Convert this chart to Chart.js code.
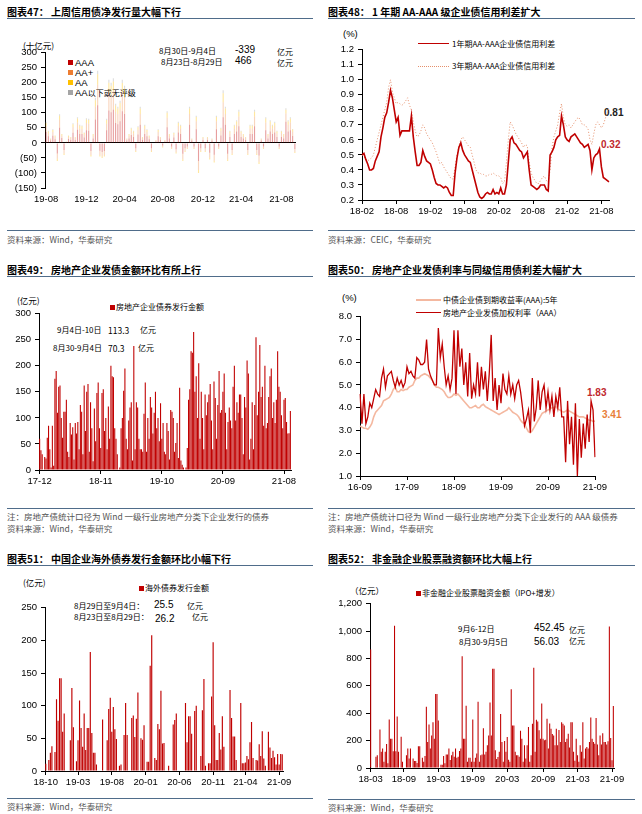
<!DOCTYPE html>
<html>
<head>
<meta charset="utf-8">
<script src="https://cdn.jsdelivr.net/npm/chart.js@4.4.0/dist/chart.umd.min.js"></script>
<style>
body{margin:0;width:642px;height:814px;background:#fff;position:relative;overflow:hidden;font-family:"Noto Sans CJK SC",sans-serif;}
.t{position:absolute;white-space:nowrap;line-height:12px;height:12px;font-size:8.5px;color:#000;}
.h{position:absolute;white-space:nowrap;line-height:14px;font-size:10px;font-weight:bold;color:#000;}
.r{position:absolute;height:0;border-top:1.5px solid #4f6c8a;}
.r2{position:absolute;height:0;border-top:1px solid #4f6c8a;}
.s{color:#555;}
.n{font-family:"Liberation Sans",Arial,sans-serif;font-size:10px;}
.sq{position:absolute;width:5px;height:5px;}
.ln{position:absolute;height:0;}
canvas{position:absolute;}
</style>
</head>
<body>
<!-- 图表47 -->
<div class="h" style="left:7px;top:5px">图表47：&nbsp;上周信用债净发行量大幅下行</div>
<div class="r" style="left:7px;top:18px;width:306px"></div>
<div class="t" style="left:23px;top:39px">(十亿元)</div>
<div class="sq" style="left:68px;top:60px;background:#C00000"></div><div class="t n" style="left:75px;top:57px;font-size:9.5px">AAA</div>
<div class="sq" style="left:68px;top:70px;background:#ED7D31"></div><div class="t n" style="left:75px;top:67px;font-size:9.5px">AA+</div>
<div class="sq" style="left:68px;top:80px;background:#FFC000"></div><div class="t n" style="left:75px;top:77px;font-size:9.5px">AA</div>
<div class="sq" style="left:68px;top:90px;background:#A5A5A5"></div><div class="t n" style="left:75px;top:87px;font-size:9.5px">AA<span style="font-family:'Noto Sans CJK SC';font-size:8px">以下或无评级</span></div>
<div class="t" style="left:159px;top:45px;font-size:8px">8月30日-9月4日</div>
<div class="t n" style="left:235px;top:44px">-339</div>
<div class="t" style="left:277px;top:46px;font-size:8px">亿元</div>
<div class="t" style="left:161px;top:56px;font-size:8px">8月23日-8月29日</div>
<div class="t n" style="left:235px;top:55px">466</div>
<div class="t" style="left:277px;top:57px;font-size:8px">亿元</div>
<div class="r2" style="left:7px;top:230px;width:306px"></div>
<div class="t s" style="left:7px;top:233px">资料来源：Wind，华泰研究</div>

<!-- 图表48 -->
<div class="h" style="left:328px;top:5px">图表48：&nbsp;1 年期 AA-AAA 级企业债信用利差扩大</div>
<div class="r" style="left:328px;top:18px;width:307px"></div>
<div class="t n" style="left:343px;top:28px;font-size:9.5px">(%)</div>
<div class="ln" style="left:418px;top:43px;width:31px;border-top:1.5px solid #C00000"></div>
<div class="t" style="left:452px;top:38px;font-size:8px">1年期AA-AAA企业债信用利差</div>
<div class="ln" style="left:418px;top:66px;width:31px;border-top:1px dotted #E58F6B"></div>
<div class="t" style="left:452px;top:60px;font-size:8px">3年期AA-AAA企业债信用利差</div>
<div class="t n" style="left:604px;top:107px;font-weight:bold;color:#222">0.81</div>
<div class="t n" style="left:601px;top:139px;font-weight:bold;color:#C0282D">0.32</div>
<div class="r2" style="left:328px;top:230px;width:307px"></div>
<div class="t s" style="left:328px;top:233px">资料来源：CEIC，华泰研究</div>

<!-- 图表49 -->
<div class="h" style="left:7px;top:263px">图表49：&nbsp;房地产企业发债金额环比有所上行</div>
<div class="r" style="left:7px;top:276px;width:306px"></div>
<div class="t" style="left:17px;top:294px">(亿元)</div>
<div class="sq" style="left:110px;top:305px;background:#C00000"></div>
<div class="t" style="left:116px;top:301px;font-size:8px">房地产企业债券发行金额</div>
<div class="t" style="left:57px;top:324px;font-size:8px">9月4日-10日</div>
<div class="t" style="left:108px;top:324px">113.3</div>
<div class="t" style="left:140px;top:324px;font-size:8px">亿元</div>
<div class="t" style="left:53px;top:342px;font-size:8px">8月30-9月4日</div>
<div class="t" style="left:108px;top:342px">70.3</div>
<div class="t" style="left:138px;top:342px;font-size:8px">亿元</div>
<div class="r2" style="left:7px;top:508px;width:306px"></div>
<div class="t s" style="left:7px;top:510px">注：房地产债统计口径为 Wind 一级行业房地产分类下企业发行的债券</div>
<div class="t s" style="left:7px;top:522px">资料来源：Wind，华泰研究</div>

<!-- 图表50 -->
<div class="h" style="left:328px;top:263px">图表50：&nbsp;房地产企业发债利率与同级信用债利差大幅扩大</div>
<div class="r" style="left:328px;top:276px;width:307px"></div>
<div class="t n" style="left:342px;top:292px;font-size:9.5px">(%)</div>
<div class="ln" style="left:416px;top:299px;width:25px;border-top:2px solid #F4B8A0"></div>
<div class="t" style="left:443px;top:294px;font-size:8px">中债企业债到期收益率(AAA):5年</div>
<div class="ln" style="left:416px;top:312px;width:25px;border-top:1.5px solid #C00000"></div>
<div class="t" style="left:443px;top:307px;font-size:8px">房地产企业发债加权利率（AAA）</div>
<div class="t n" style="left:587px;top:387px;font-weight:bold;color:#C0282D">1.83</div>
<div class="t n" style="left:602px;top:409px;font-weight:bold;color:#E8803A">3.41</div>
<div class="r2" style="left:328px;top:508px;width:307px"></div>
<div class="t s" style="left:328px;top:510px">注：房地产债统计口径为 Wind 一级行业房地产分类下企业发行的 AAA 级债券</div>
<div class="t s" style="left:328px;top:522px">资料来源：Wind，华泰研究</div>

<!-- 图表51 -->
<div class="h" style="left:7px;top:552px">图表51：&nbsp;中国企业海外债券发行金额环比小幅下行</div>
<div class="r" style="left:7px;top:565px;width:306px"></div>
<div class="t" style="left:23px;top:576px">(亿元)</div>
<div class="sq" style="left:139px;top:586px;background:#C00000"></div>
<div class="t" style="left:145px;top:582px;font-size:8px">海外债券发行金额</div>
<div class="t" style="left:74px;top:600px;font-size:8px">8月29日至9月4日：</div>
<div class="t n" style="left:154px;top:599px">25.5</div>
<div class="t" style="left:187px;top:600px;font-size:8px">亿元</div>
<div class="t" style="left:74px;top:611px;font-size:8px">8月23日至8月29日：</div>
<div class="t n" style="left:155px;top:613px">26.2</div>
<div class="t" style="left:192px;top:611px;font-size:8px">亿元</div>
<div class="r2" style="left:7px;top:798px;width:306px"></div>
<div class="t s" style="left:7px;top:800px">资料来源：Wind，华泰研究</div>

<!-- 图表52 -->
<div class="h" style="left:328px;top:552px">图表52：&nbsp;非金融企业股票融资额环比大幅上行</div>
<div class="r" style="left:328px;top:565px;width:307px"></div>
<div class="t" style="left:350px;top:584px">（亿元）</div>
<div class="sq" style="left:416px;top:591px;background:#C00000"></div>
<div class="t" style="left:422px;top:587px;font-size:8px">非金融企业股票融资金额（IPO+增发）</div>
<div class="t" style="left:458px;top:623px;font-size:8px">9月6-12日</div>
<div class="t n" style="left:534px;top:622px">452.45</div>
<div class="t" style="left:569px;top:624px;font-size:8px">亿元</div>
<div class="t" style="left:459px;top:636px;font-size:8px">8月30-9月5日</div>
<div class="t n" style="left:534px;top:636px">56.03</div>
<div class="t" style="left:569px;top:635px;font-size:8px">亿元</div>
<div class="r2" style="left:328px;top:799px;width:307px"></div>
<div class="t s" style="left:328px;top:801px">资料来源：Wind，华泰研究</div>

<script>
// ---------- 图表47 信用债净发行（十亿元），周度 ----------
var ticks47 = ['19-08','19-12','20-04','20-08','20-12','21-04','21-08'];
var netAAA = [36,22,8,24,12,-35,50,16,-24,3,
  13,10,34,10,44,30,30,18,42,40,
  -27,15,78,125,-26,-30,-27,42,108,102,
  110,66,62,72,105,96,8,15,26,20,
  -18,28,60,10,30,22,12,-18,0,5,
  22,10,-9,5,52,15,-12,18,-21,35,
  30,-36,-18,-12,60,8,-12,45,-60,-18,
  10,-18,10,-33,8,-39,45,-12,25,85,
  60,-36,20,-24,30,38,55,20,15,10,
  -24,30,30,55,-24,-42,8,-12,42,15,
  38,30,35,20,-12,20,15,70,38,42,
  23.3,-20.3];
var netAAplus = [20,10,4,12,8,-18,26,8,-11,1,
  7,6,18,6,24,18,16,10,24,24,
  -13,9,42,68,-14,-15,-13,22,60,58,
  62,38,34,40,62,55,4,9,14,12,
  -9,16,36,6,18,14,8,-9,0,3,
  14,6,-4,3,32,9,-6,10,-10,21,
  18,-18,-9,-6,36,4,-6,27,-30,-9,
  6,-9,6,-16,4,-20,27,-6,15,50,
  36,-18,12,-12,18,22,33,12,9,6,
  -12,18,18,33,-12,-21,4,-6,26,9,
  22,18,21,12,-6,12,9,28,22,26,
  14,-10.2];
var netAA = [10,6,2,7,4,-7,14,5,-5,1,
  4,3,10,3,13,9,9,5,12,12,
  -5,5,22,35,-5,-5,-5,12,32,30,
  32,20,18,21,32,30,2,5,8,6,
  -3,8,18,3,9,7,4,-3,0,2,
  7,3,-2,2,16,5,-2,5,-4,10,
  9,-6,-3,-2,18,2,-2,14,-10,-3,
  3,-3,3,-6,2,-6,14,-2,8,30,
  18,-6,6,-4,9,11,16,6,5,3,
  -4,9,9,16,-4,-7,2,-2,13,5,
  11,9,10,6,-2,6,5,12,11,13,
  7,-3.4];
var netBelow = [4,2,1,2,1,0,5,1,0,0,
  1,1,3,1,4,3,3,2,4,4,
  0,1,8,12,0,0,0,4,10,10,
  11,6,6,7,11,9,1,1,2,2,
  0,3,6,1,3,2,1,0,0,0,
  2,1,0,0,5,1,0,2,0,4,
  3,0,0,0,6,1,0,4,0,0,
  1,0,1,0,1,0,4,0,2,10,
  6,0,2,0,3,4,6,2,1,1,
  0,3,3,6,0,0,1,0,4,1,
  4,3,4,2,0,2,1,5,4,4,
  2.3,0];

// ---------- 图表48 信用利差（%），每月三个点，自2018-02 ----------
var ticks48 = ['18-02','18-08','19-02','19-08','20-02','20-08','21-02','21-08'];
var spread1Y = [.50,.51,.47, .44,.40,.40, .41,.46,.49, .52,.62,.68, .75,.78,.85, .93,.88,.80,
  .72,.75,.63, .66,.66,.66, .66,.66,.76, .62,.52,.43, .43,.45,.53, .49,.46,.45,
  .44,.40,.35, .31,.30,.30, .29,.28,.29, .28,.25,.23, .23,.38,.48, .55,.58,.53,
  .50,.48,.46, .45,.40,.35, .30,.25,.22, .21,.22,.24, .25,.24,.24, .27,.24,.25,
  .24,.28,.24, .24,.30,.45, .60,.62,.58, .57,.55,.53, .52,.48,.50, .52,.40,.30,
  .29,.28,.27, .28,.30,.30, .30,.27,.26, .50,.52,.55, .60,.62,.63, .76,.70,.62,
  .60,.59,.62, .63,.64,.62, .60,.58,.57, .55,.56,.57, .53,.40,.48, .50,.51,.54,
  .42,.35,.34, .33,.32];
var spread3Y = [.50,.49,.47, .46,.47,.48, .50,.55,.60, .65,.70,.75, .80,.85,.95, 1.00,.92,.88,
  .84,.85,.84, .83,.84,.86, .88,.83,.80, .72,.66,.62, .63,.66,.70, .68,.64,.62,
  .60,.58,.55, .52,.48,.44, .45,.42,.40, .38,.36,.34, .34,.42,.50, .56,.60,.62,
  .60,.58,.56, .55,.50,.45, .40,.38,.38, .37,.37,.36, .36,.37,.37, .38,.37,.36,
  .36,.35,.31, .32,.45,.60, .72,.70,.67, .64,.62,.60, .58,.55,.57, .56,.45,.38,
  .35,.33,.31, .31,.33,.35, .36,.33,.32, .40,.55,.62, .66,.70,.78, .84,.75,.70,
  .69,.70,.68, .70,.72,.74, .75,.73,.70, .70,.69,.67, .60,.57,.64, .70,.72,.70,
  .68,.70,.74, .78,.81];

// ---------- 图表49 房地产企业债券发行金额（亿元），周度 ----------
var ticks49 = ['17-12','18-11','19-10','20-09','21-08'];
var reIssue = [60,38,30,0, 25,22,62,85, 40,5,85,8, 175,190,110,160, 162,100,62,112,
  112,135,35,25, 90,68,82,20, 90,70,92,40, 125,112,30,162, 75,150,165,35,
  130,80,17,118, 55,148,168,80, 42,148,155,75, 100,40,122,60, 200,180,178,80,
  60,30,0,5,80, 100,152,195,60, 40,95,120,130, 18,238,40,130, 120,60,40,40,
  35,108,168,35, 100,60,140,120, 70,110,150,80, 100,55,128,60, 90,35,30,90,
  75,20,115,112, 100,35,52,90, 23,158,18,10, 5,0,5,42, 135,155,228,225,
  265,150,180,100, 205,60,150,100, 40,145,105,130, 145,165,95, 40,170,138,60,
  125,190,110,115, 150,185,110,40, 92,120,95, 80,160,200,95, 130,110,145,145,
  100,30,140,120, 210,185,20,60, 130,40,125,255, 105,150,240,140, 160,85,200,80,
  90,140,180, 195,100,130,90, 135,228,160,150, 105,80,135, 138,92,70,70.3,113.3];

// ---------- 图表50 利率（%），每月两个点，自2016-09 ----------
var ticks50 = ['16-09','17-09','18-09','19-09','20-09','21-09'];
var aaa5Y = [3.2,3.15, 3.1,3.1, 3.05,3.15, 3.3,3.6, 3.8,3.9, 4.0,4.1, 4.3,4.35, 4.4,4.45,
  4.6,4.8, 4.9,4.7, 4.7,4.8, 4.75,4.8, 4.8,4.9, 4.95,5.0, 5.2,5.3, 5.3,5.4,
  5.45,5.5, 5.45,5.4, 5.3,5.2, 5.0,4.9, 4.9,4.85, 4.8,4.7, 4.55,4.45, 4.45,4.5,
  4.6,4.55, 4.6,4.5, 4.4,4.3, 4.2,4.1, 4.0,4.0, 4.05,4.1, 4.0,4.0, 4.1,4.15,
  4.05,4.0, 3.95,3.9, 3.85,3.8, 3.75,3.7, 3.75,3.8, 3.85,3.9, 4.0,3.9, 3.8,3.75,
  3.7,3.6, 3.45,3.35, 3.3,3.1, 2.95,2.9, 3.0,3.15, 3.3,3.45, 3.6,3.75, 3.8,3.85,
  3.9,3.95, 4.0,4.0, 4.05,3.95, 3.9,3.85, 3.8,3.85, 3.9,3.85, 3.8,3.75, 3.7,3.65,
  3.6,3.6, 3.6,3.55, 3.5,3.45, 3.45,3.4, 3.41];
var reRate = [4.6,3.3, 4.6,3.3, 3.6,4.2, 4.0,4.4, 4.8,4.6, 4.5,5.3, 5.7,4.9, 5.4,5.5,
  5.6,5.2, 4.9,5.3, 5.0,5.2, 4.9,5.1, 5.8,5.5, 5.6,5.4, 5.3,6.2, 6.1,5.9,
  5.9,6.0, 7.0,5.7, 5.4,5.2, 5.0,5.0, 7.5,6.2, 6.8,5.8, 5.0,5.4, 4.8,5.3,
  7.4,4.6, 7.4,5.8, 6.6,5.0, 6.0,4.5, 6.4,4.4, 5.0,4.6, 6.0,4.5, 5.8,4.8,
  5.6,4.3, 5.5,7.2, 4.3,5.3, 3.9,5.0, 4.2,5.5, 4.8,4.6, 5.4,4.6, 5.0,4.4,
  5.0,5.2, 4.7,4.0, 3.2,3.5, 3.9,2.9, 5.3,3.4, 4.0,5.2, 3.9,4.7, 5.0,4.0,
  4.7,3.9, 4.5,3.6, 4.5,4.0, 4.9,3.6, 3.6,1.6, 4.3,2.4, 3.6,1.5, 4.2,1.0,
  3.5,1.8, 3.3,2.2, 3.7,2.5, 4.3,3.9, 1.83];

// ---------- 图表51 海外债券发行金额（亿元），周度 ----------
var ticks51 = ['18-10','19-03','19-08','20-01','20-06','20-11','21-04','21-09'];
var overseas = [11,0,17,28,38,0,29,110,77,142,142,60,88,0,0,0,47,127,67,0,15,47,
  108,66,37,88,32,66,66,182,58,28,28,10,0,0,0,79,0,0,47,95,112,60,
  98,64,49,0,8,10,0,55,104,55,0,0,81,85,52,80,120,0,50,48,70,0,
  14,14,161,208,0,20,17,72,64,123,42,43,0,0,8,0,0,71,78,88,0,0,
  0,0,0,104,44,84,84,57,0,92,100,0,0,23,93,141,8,0,12,12,114,197,
  70,17,17,58,33,84,37,0,0,0,124,81,53,53,17,0,0,104,12,12,13,
  23,18,44,75,20,0,17,16,41,23,61,19,8,0,60,36,20,31,21,10,26,10,26.2,25.5];

// ---------- 图表52 非金融企业股票融资金额（亿元），周度 ----------
var ticks52 = ['18-03','18-09','19-03','19-09','20-03','20-09','21-03','21-09'];
var equity = [866,0,0,0,82,94,0,282,118,142, 46,118,176,34,354,214,214,123,1039,123,
  376,118,0,229,46,0,0,94,142,70, 142,0,70,51,51,36,159,159,0,75,
  46,87,448,190,318,142,238,335,214,540, 540,347,0,24,24,87,34,99,99,142,
  58,94,118,82,142,75,82,125,142,817, 214,214,455,46,75,75,46,354,46,75,
  106,484,46,94,99,291,99,118,166,238, 479,238,725,725,130,65,80,118,395,190,
  46,198,118,226,60,46,576,311,311,118, 94,94,82,272,214,46,166,70,166,299,
  46,94,323,733,118,352,340,275,214,472, 214,202,207,359,142,325,287,248,238,166,
  287,166,277,190,335,323,311,190,214,250, 150,335,335,118,53,214,94,46,166,118,
  335,70,142,154,142,190,369,214,190,178, 366,171,94,238,171,253,190,190,171,195,
  1034,219,56.03,452.45];

// ---------- helpers ----------
Chart.defaults.font.family = '"Liberation Sans", Arial, sans-serif';
Chart.defaults.font.size = 9.5;
Chart.defaults.color = '#000';

function weekly(end, n) {
  var out = [], e = new Date(end + 'T00:00:00Z');
  for (var i = n - 1; i >= 0; i--) {
    var d = new Date(e.getTime() - i * 7 * 864e5);
    out.push(String(d.getUTCFullYear()).slice(2) + '-' + String(d.getUTCMonth() + 1).padStart(2, '0'));
  }
  return out;
}
function monthly(start, per, n) {
  var p = start.split('-').map(Number), out = [];
  for (var i = 0; i < n; i++) {
    var k = p[1] - 1 + Math.floor(i / per);
    out.push(String(p[0] + Math.floor(k / 12)).slice(2) + '-' + String(k % 12 + 1).padStart(2, '0'));
  }
  return out;
}
function tickMap(labels, wanted) {
  var m = new Map();
  labels.forEach(function (l, i) { if (wanted.indexOf(l) >= 0 && (i === 0 || labels[i - 1] !== l)) m.set(i, l); });
  return m;
}
function place(b) {
  var c = document.createElement('canvas');
  var w = b.R - b.L + b.yw + b.pr, h = b.B - b.T + b.pt + b.xh;
  c.width = w; c.height = h;
  c.style.left = (b.L - b.yw) + 'px'; c.style.top = (b.T - b.pt) + 'px';
  c.style.width = w + 'px'; c.style.height = h + 'px';
  document.body.appendChild(c);
  return c;
}
function xAxis(map, b, showLine) {
  return {
    type: 'category',
    afterFit: function (s) { s.height = b.xh; },
    border: { display: showLine, color: '#000', width: 1 },
    grid: { drawOnChartArea: false, offset: false, tickLength: 4,
      color: function (c) { return showLine && map.has(c.index) ? '#000' : 'rgba(0,0,0,0)'; } },
    ticks: { autoSkip: false, maxRotation: 0, minRotation: 0, padding: 2,
      callback: function (v, i) { return map.get(i) || ''; } }
  };
}
function yAxis(b, min, max, step, fmt) {
  return {
    min: min, max: max,
    afterFit: function (s) { s.width = b.yw; },
    border: { display: true, color: '#000', width: 1 },
    grid: { drawOnChartArea: false, tickLength: 4, color: '#000' },
    ticks: { stepSize: step, padding: 4, callback: fmt }
  };
}
function base(b) {
  return { responsive: false, animation: false,
    layout: { padding: { top: b.pt, right: b.pr, left: 0, bottom: 0 } },
    plugins: { legend: { display: false }, tooltip: { enabled: false } } };
}
var fix1 = function (v) { return v.toFixed(1); };

// ---------- 图表47 ----------
(function () {
  var b = { L: 45, R: 296, T: 51, B: 188, yw: 45, pt: 8, pr: 8, xh: 18 };
  var labels = weekly('2021-09-18', netAAA.length);
  var map = tickMap(labels, ticks47);
  var o = base(b);
  var y = yAxis(b, -150, 300, 50, function (v) { return v < 0 ? '(' + (-v) + ')' : v; });
  y.stacked = true;
  y.grid = { drawOnChartArea: true, tickLength: 4, tickColor: '#000',
    color: function (c) { return c.tick && c.tick.value === 0 ? '#000' : 'rgba(0,0,0,0)'; } };
  var x = xAxis(map, b, false); x.stacked = true;
  o.scales = { x: x, y: y };
  var bp = { barPercentage: 0.5, categoryPercentage: 1 };
  new Chart(place(b), { type: 'bar', options: o, data: { labels: labels, datasets: [
    Object.assign({ label: 'AAA', data: netAAA, backgroundColor: 'rgba(192,0,0,0.38)' }, bp),
    Object.assign({ label: 'AA+', data: netAAplus, backgroundColor: 'rgba(237,125,49,0.32)' }, bp),
    Object.assign({ label: 'AA', data: netAA, backgroundColor: 'rgba(255,192,0,0.38)' }, bp),
    Object.assign({ label: 'AA以下或无评级', data: netBelow, backgroundColor: 'rgba(165,165,165,0.38)' }, bp)
  ] } });
})();

// ---------- 图表48 ----------
(function () {
  var b = { L: 362, R: 609, T: 48, B: 200, yw: 41, pt: 8, pr: 6, xh: 18 };
  var labels = monthly('2018-02', 3, spread1Y.length);
  var map = tickMap(labels, ticks48);
  var o = base(b);
  o.scales = { x: xAxis(map, b, true), y: yAxis(b, 0.2, 1.2, 0.1, fix1) };
  new Chart(place(b), { type: 'line', options: o, data: { labels: labels, datasets: [
    { label: '1年期AA-AAA企业债信用利差', data: spread1Y, borderColor: '#C00000', borderWidth: 1.6, pointRadius: 0, tension: 0 },
    { label: '3年期AA-AAA企业债信用利差', data: spread3Y, borderColor: '#E58F6B', borderWidth: 1, borderDash: [1, 2], pointRadius: 0, tension: 0 }
  ] } });
})();

// ---------- 图表49 ----------
(function () {
  var b = { L: 39, R: 291, T: 312, B: 470, yw: 39, pt: 8, pr: 10, xh: 18 };
  var labels = weekly('2021-09-10', reIssue.length);
  var map = tickMap(labels, ticks49);
  var o = base(b);
  o.scales = { x: xAxis(map, b, true), y: yAxis(b, 0, 300, 50) };
  new Chart(place(b), { type: 'bar', options: o, data: { labels: labels, datasets: [
    { label: '房地产企业债券发行金额', data: reIssue, backgroundColor: '#C00000', barPercentage: 0.85, categoryPercentage: 1 }
  ] } });
})();

// ---------- 图表50 ----------
(function () {
  var b = { L: 360, R: 595, T: 315, B: 476, yw: 39, pt: 8, pr: 20, xh: 18 };
  var labels = monthly('2016-09', 2, reRate.length);
  var map = tickMap(labels, ticks50);
  var o = base(b);
  o.scales = { x: xAxis(map, b, true), y: yAxis(b, 1, 8, 1, fix1) };
  new Chart(place(b), { type: 'line', options: o, data: { labels: labels, datasets: [
    { label: '房地产企业发债加权利率（AAA）', data: reRate, borderColor: '#C00000', borderWidth: 1.3, pointRadius: 0, tension: 0 },
    { label: '中债企业债到期收益率(AAA):5年', data: aaa5Y, borderColor: '#F4B8A0', borderWidth: 1.6, pointRadius: 0, tension: 0 }
  ] } });
})();

// ---------- 图表51 ----------
(function () {
  var b = { L: 45, R: 283, T: 606, B: 771, yw: 45, pt: 8, pr: 12, xh: 18 };
  var labels = weekly('2021-09-18', overseas.length);
  var map = tickMap(labels, ticks51);
  var o = base(b);
  o.scales = { x: xAxis(map, b, true), y: yAxis(b, 0, 250, 50) };
  new Chart(place(b), { type: 'bar', options: o, data: { labels: labels, datasets: [
    { label: '海外债券发行金额', data: overseas, backgroundColor: '#C00000', barPercentage: 0.75, categoryPercentage: 1 }
  ] } });
})();

// ---------- 图表52 ----------
(function () {
  var b = { L: 370, R: 614, T: 602, B: 768, yw: 49, pt: 8, pr: 14, xh: 18 };
  var labels = weekly('2021-09-12', equity.length);
  var map = tickMap(labels, ticks52);
  var o = base(b);
  o.scales = { x: xAxis(map, b, true), y: yAxis(b, 0, 1200, 200, function (v) { return v.toLocaleString('en-US'); }) };
  new Chart(place(b), { type: 'bar', options: o, data: { labels: labels, datasets: [
    { label: '非金融企业股票融资金额（IPO+增发）', data: equity, backgroundColor: '#C00000', barPercentage: 0.8, categoryPercentage: 1 }
  ] } });
})();
</script>
</body>
</html>
